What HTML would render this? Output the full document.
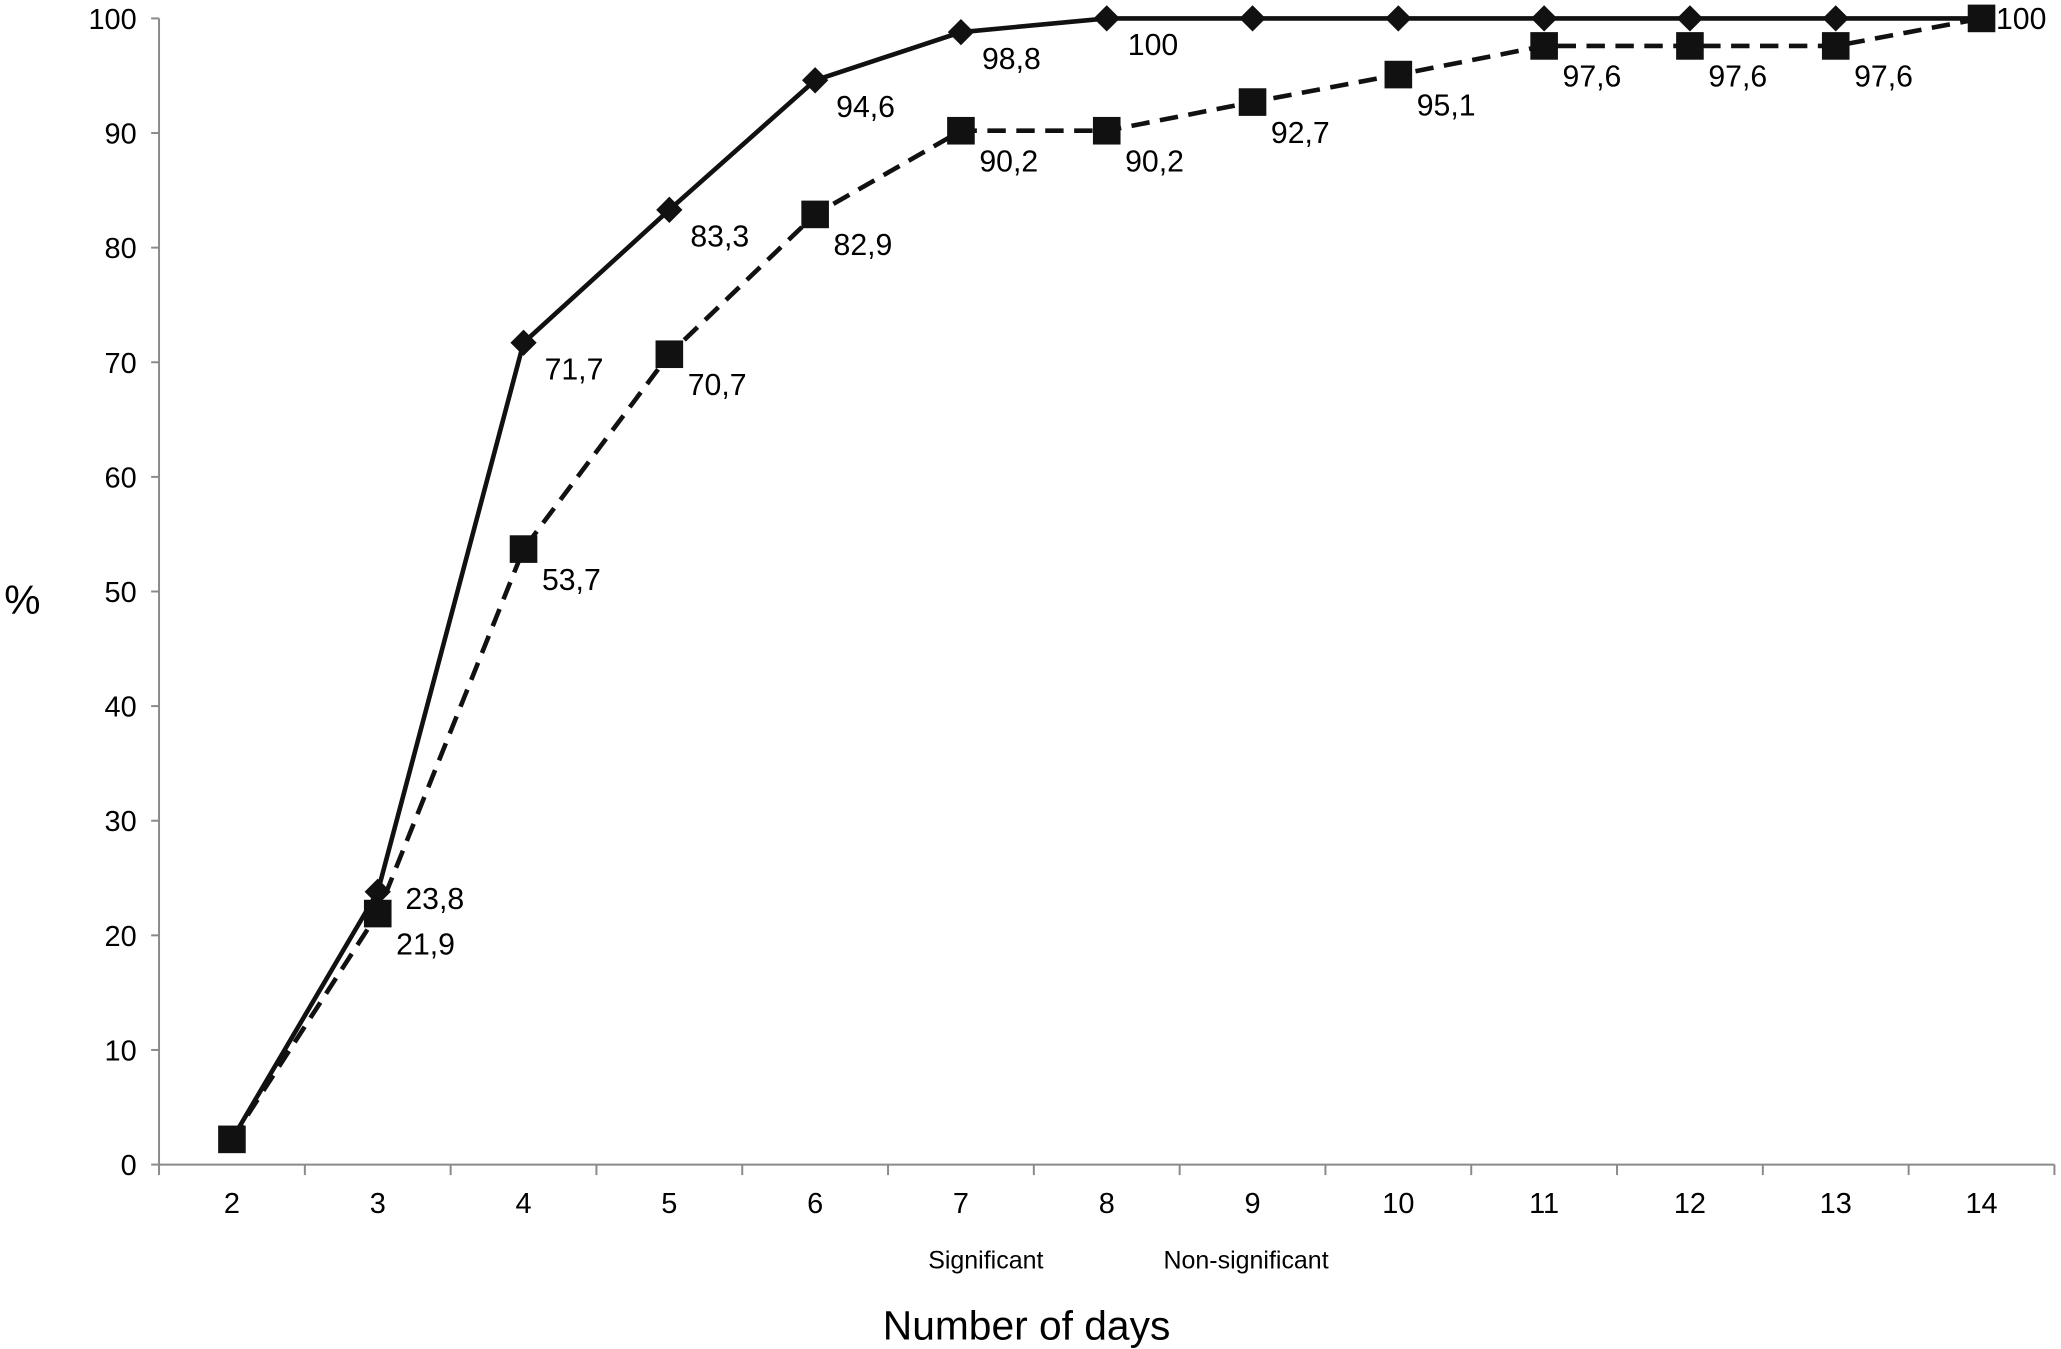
<!DOCTYPE html>
<html><head><meta charset="utf-8"><style>
html,body{margin:0;padding:0;background:#fff;}
svg{display:block;font-family:"Liberation Sans",Arial,sans-serif;}
</style></head><body>
<svg id="chart" width="2061" height="1349" viewBox="0 0 1568 1026.3" xmlns="http://www.w3.org/2000/svg">
<g id="axes"></g>
<g id="series"></g>
<text x="17" y="467" font-size="31" text-anchor="middle">%</text>
<text x="781" y="1019" font-size="31" text-anchor="middle">Number of days</text>
<text x="750" y="965" font-size="19" text-anchor="middle">Significant</text>
<text x="948" y="965" font-size="19" text-anchor="middle">Non-significant</text>
</svg>
<script>
const categories = ["2","3","4","5","6","7","8","9","10","11","12","13","14"];
const solidValues = [2.2,23.8,71.7,83.3,94.6,98.8,100,100,100,100,100,100,100];
const dashedValues = [2.2,21.9,53.7,70.7,82.9,90.2,90.2,92.7,95.1,97.6,97.6,97.6,100];
const solidLabels = ["","23,8","71,7","83,3","94,6","98,8","100","","","","","",""];
const dashedLabels = ["","21,9","53,7","70,7","82,9","90,2","90,2","92,7","95,1","97,6","97,6","97,6","100"];
const yTicks = [0,10,20,30,40,50,60,70,80,90,100];

const NS="http://www.w3.org/2000/svg";
const L=121,R=1563,T=14,B=886;
const bw=(R-L)/categories.length;
const xS=i=>L+bw*(i+0.5);
const yS=v=>B-(B-T)*v/100;
function mk(tag,attrs,parent){const e=document.createElementNS(NS,tag);for(const k in attrs)e.setAttribute(k,attrs[k]);parent.appendChild(e);return e;}
const ax=document.getElementById('axes'), se=document.getElementById('series');

let e=mk('line',{x1:L,y1:T,x2:L,y2:B,stroke:'#8a8a8a','stroke-width':1.5},ax);


e=mk('line',{x1:L,y1:B,x2:R,y2:B,stroke:'#8a8a8a','stroke-width':1.5},ax);


yTicks.forEach(v=>{
  const t=mk('line',{x1:L-6,y1:yS(v),x2:L,y2:yS(v),stroke:'#8a8a8a','stroke-width':1.5},ax);
  
  
  const lb=mk('text',{x:104,y:yS(v)+8,'font-size':22,'text-anchor':'end'},ax);
  lb.textContent=v;
  
  
});
for(let i=0;i<=categories.length;i++){
  const x=L+bw*i;
  const t=mk('line',{x1:x,y1:B,x2:x,y2:B+8,stroke:'#8a8a8a','stroke-width':1.5},ax);
  
  
}
categories.forEach((c,i)=>{
  const lb=mk('text',{x:xS(i),y:923,'font-size':22,'text-anchor':'middle'},ax);
  lb.textContent=c;
  
  
});

function pts(vals){return vals.map((v,i)=>xS(i)+','+yS(v)).join(' ');}
e=mk('polyline',{points:pts(dashedValues),fill:'none',stroke:'#111','stroke-width':3.5,'stroke-dasharray':'14 8'},se);


e=mk('polyline',{points:pts(solidValues),fill:'none',stroke:'#111','stroke-width':3.5},se);



solidValues.forEach((v,i)=>{
  const x=xS(i),y=yS(v),s=10;
  const d=mk('polygon',{points:`${x},${y-s} ${x+s},${y} ${x},${y+s} ${x-s},${y}`,fill:'#111'},se);
  
  
  if(solidLabels[i]){
    const dx=i===1?21:16, dy=i===1?13:28;
    const t=mk('text',{x:x+dx,y:y+dy,'font-size':23},se);
    t.textContent=solidLabels[i];
    
    
  }
});
dashedValues.forEach((v,i)=>{
  const x=xS(i),y=yS(v),s=10.5;
  const r=mk('rect',{x:x-s,y:y-s,width:2*s,height:2*s,fill:'#111'},se);
  
  
  if(dashedLabels[i]){
    const last=i===dashedValues.length-1;
    const dx=last?11:14, dy=last?8:31;
    const t=mk('text',{x:x+dx,y:y+dy,'font-size':23},se);
    t.textContent=dashedLabels[i];
    
    
  }
});
</script>
</body></html>
